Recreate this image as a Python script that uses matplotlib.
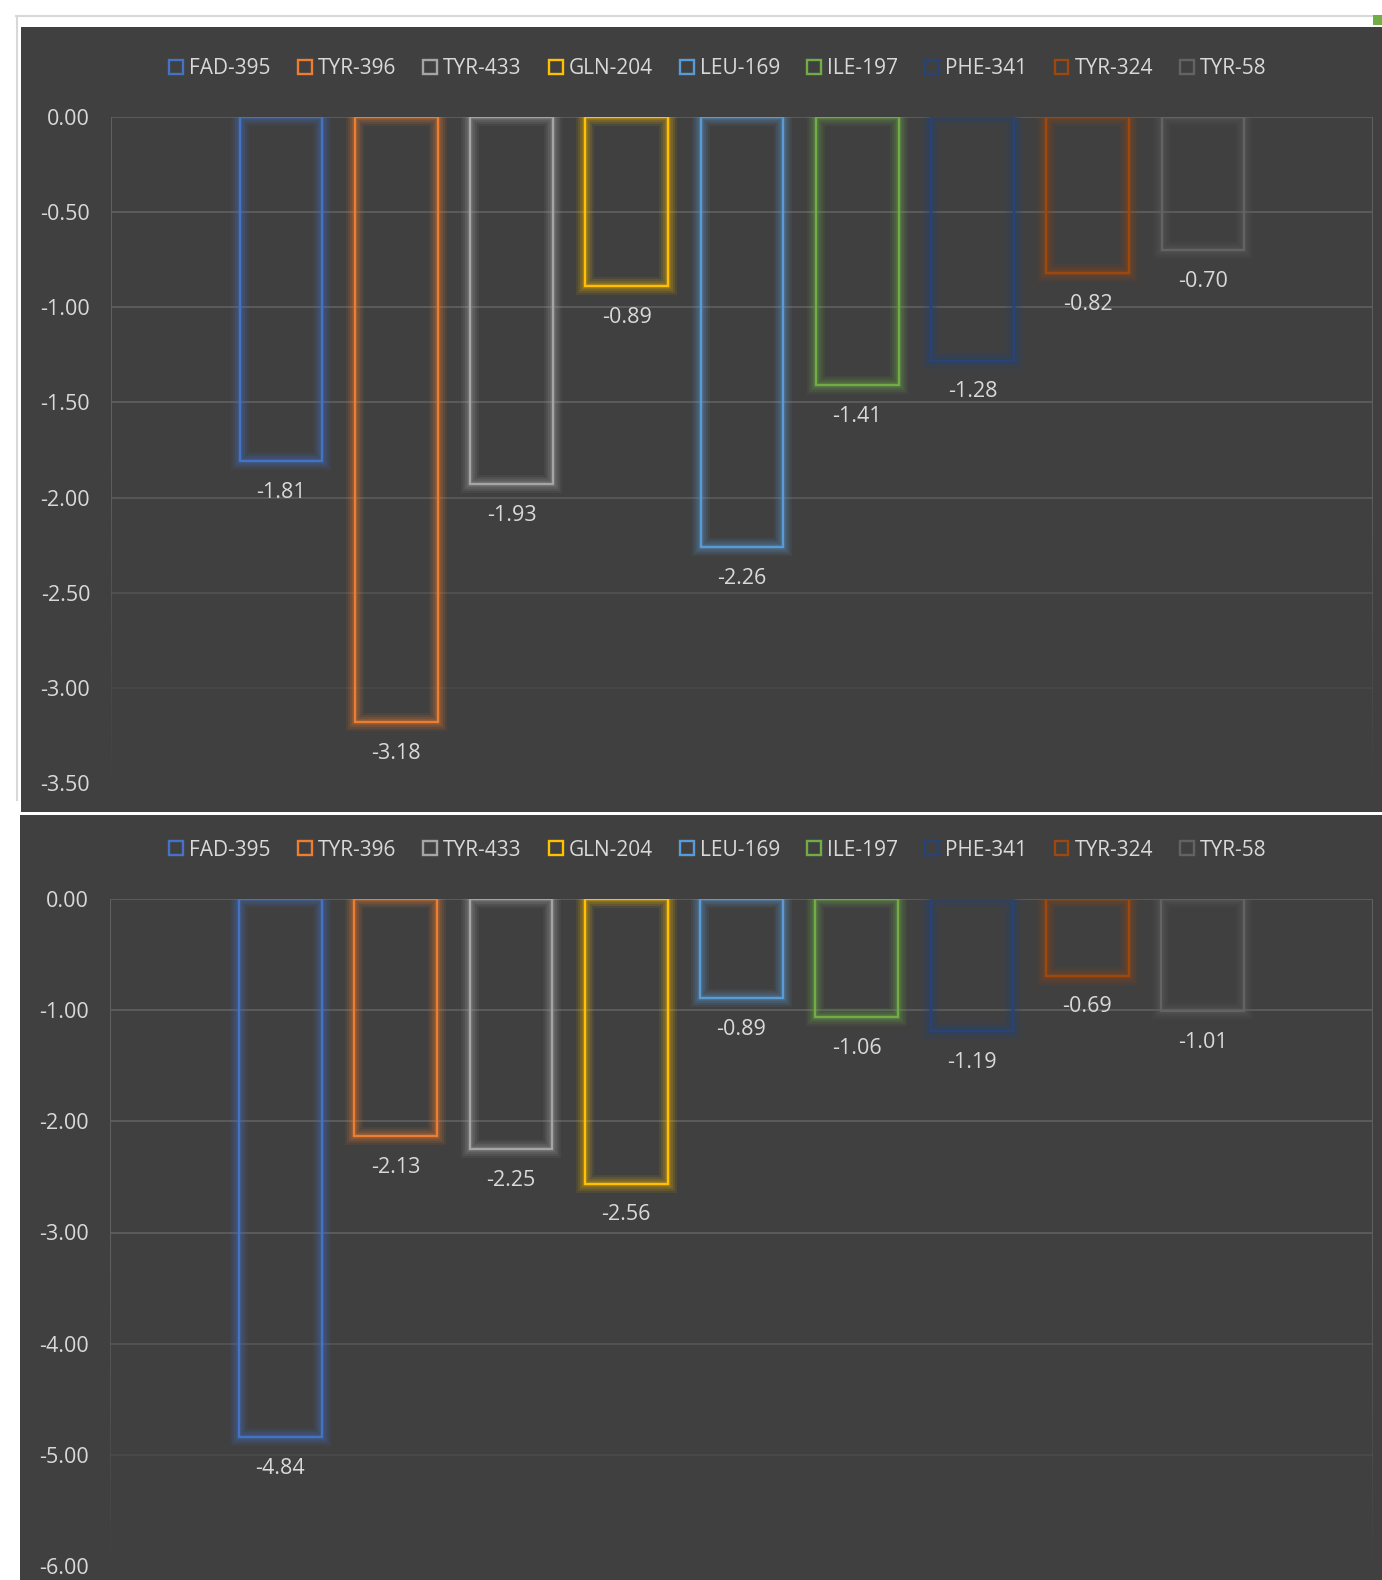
import matplotlib
matplotlib.use("Agg")
import matplotlib.pyplot as plt
import numpy as np
from matplotlib.patches import Rectangle
from matplotlib.lines import Line2D
from matplotlib.collections import LineCollection

plt.rcParams['font.family'] = ['Open Sans', 'DejaVu Sans']

residues = ["FAD-395", "TYR-396", "TYR-433", "GLN-204", "LEU-169",
            "ILE-197", "PHE-341", "TYR-324", "TYR-58"]
energy_top = [-1.81, -3.18, -1.93, -0.89, -2.26, -1.41, -1.28, -0.82, -0.70]
energy_bottom = [-4.84, -2.13, -2.25, -2.56, -0.89, -1.06, -1.19, -0.69, -1.01]
ticks_top = [0.0, -0.5, -1.0, -1.5, -2.0, -2.5, -3.0, -3.5]
ticks_bottom = [0.0, -1.0, -2.0, -3.0, -4.0, -5.0, -6.0]

colors = ["#4472C4", "#ED7D31", "#A5A5A5", "#FFC000", "#5B9BD5",
          "#70AD47", "#264478", "#9E480E", "#636363"]

BG = "#404040"
GRID = "#606060"
TXT = "#d9d9d9"

W, H = 1382, 1580
fig = plt.figure(figsize=(W / 100, H / 100), dpi=100)
fig.patch.set_facecolor("white")


def frac(x0, y0, x1, y1):
    return [x0 / W, 1 - y1 / H, (x1 - x0) / W, (y1 - y0) / H]


def panel(x0, y0, x1, y1, color):
    r = Rectangle((x0 / W, 1 - y1 / H), (x1 - x0) / W, (y1 - y0) / H,
                  transform=fig.transFigure, facecolor=color,
                  edgecolor="none", zorder=-5)
    fig.add_artist(r)


# window frame bits around the charts
fig.add_artist(Line2D([16 / W, 1], [1 - 16 / H, 1 - 16 / H],
                      transform=fig.transFigure, color="#d8d8d8", lw=1.5, zorder=-6))
fig.add_artist(Line2D([17 / W, 17 / W], [1 - 16 / H, 1 - 800 / H],
                      transform=fig.transFigure, color="#d8d8d8", lw=1.5, zorder=-6))
panel(1373, 15, 1382, 25, "#70AD47")

panel(21, 27, 1382, 812, BG)
panel(20, 815, 1382, 1580, BG)


def draw_chart(ax, values, ticks, ymin, legend_y):
    x = np.arange(len(values))
    ax.set_facecolor("none")
    ax.set_xlim(-1.476, len(values) - 1 + 1.476)
    ax.set_ylim(ymin, 0)

    # gridlines fade out towards the bottom
    for t in ticks:
        a = float(np.clip((1 - t / ymin) / 0.5, 0, 1))
        if a > 0:
            ax.axhline(t, color=GRID, lw=1.2, alpha=a, zorder=1)
    ys = np.linspace(0, ymin, 60)
    for xe in ax.get_xlim():
        segs = [[(xe, ys[i]), (xe, ys[i + 1])] for i in range(len(ys) - 1)]
        al = np.clip((1 - ys[:-1] / ymin) / 0.5, 0, 1)
        cols = [matplotlib.colors.to_rgba(GRID, a) for a in al]
        ax.add_collection(LineCollection(segs, colors=cols, lw=1.5, zorder=1))

    # soft glow under the outlined bars
    for lw, al in [(13, 0.08), (10, 0.11), (7, 0.14), (4, 0.18)]:
        ax.bar(x, values, width=0.717, facecolor="none", edgecolor=colors,
               lw=lw, alpha=al, zorder=2)
    ax.bar(x, values, width=0.717, facecolor="none", edgecolor=colors,
           lw=1.7, zorder=3)

    for xi, v in zip(x, values):
        ax.annotate(f"{v:.2f}", xy=(xi, v), xytext=(0, -22.5),
                    textcoords="offset points", ha="center", va="center",
                    color=TXT, fontsize=15.5)

    ax.set_yticks(ticks)
    ax.set_yticklabels([f"{t:.2f}" for t in ticks])
    ax.set_xticks([])
    ax.tick_params(axis="y", length=0, pad=15, labelsize=15.5, labelcolor=TXT)
    for s in ax.spines.values():
        s.set_visible(False)

    handles = [Rectangle((0, 0), 1, 1, facecolor="none", edgecolor=c, lw=1.7)
               for c in colors]
    ax.legend(handles, residues, loc="center", bbox_to_anchor=(718 / W, 1 - legend_y / H),
              bbox_transform=fig.transFigure, ncol=len(residues), frameon=False,
              fontsize=15, labelcolor=TXT, handlelength=0.66, handleheight=0.66,
              handletextpad=0.3, columnspacing=1.3)


ax1 = fig.add_axes(frac(111, 117, 1373, 783))
draw_chart(ax1, energy_top, ticks_top, -3.5, 69)

ax2 = fig.add_axes(frac(110, 899, 1373, 1566))
draw_chart(ax2, energy_bottom, ticks_bottom, -6.0, 850)

fig.savefig("out.png", dpi=100)
